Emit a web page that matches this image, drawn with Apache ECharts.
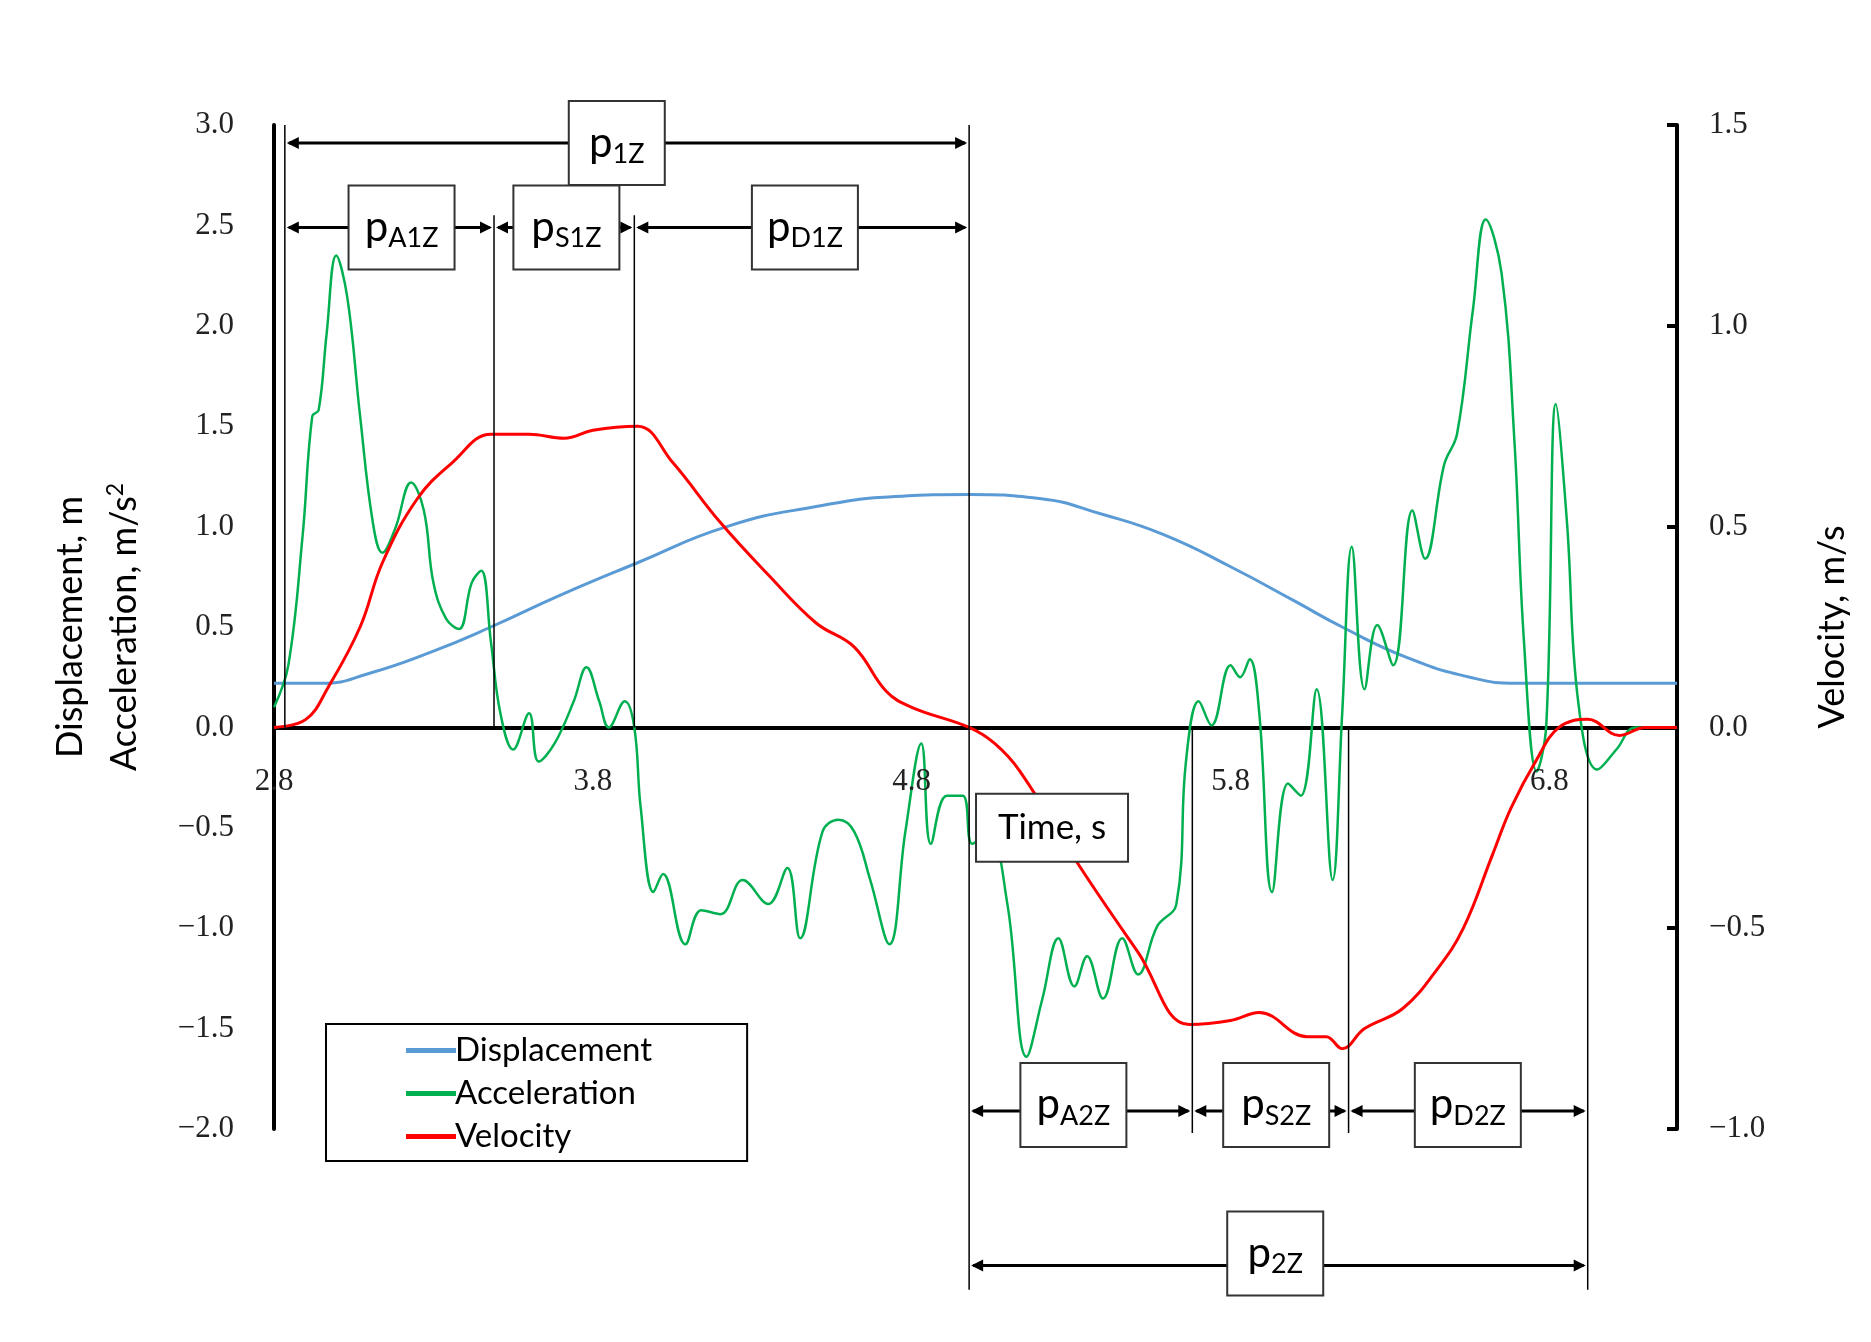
<!DOCTYPE html>
<html><head><meta charset="utf-8">
<script src="https://cdn.jsdelivr.net/npm/echarts@6/dist/echarts.min.js"></script>
<style>html,body{margin:0;background:#fff}#c{width:1871px;height:1342px}</style>
</head><body><div id="c"></div>
<script>
const xTicks=[2.8,3.8,4.8,5.8,6.8];
const displacement=[[2.8,0.22],[2.95,0.22],[3.1,0.27],[3.3,0.38],[3.48,0.5],[3.7,0.66],[3.94,0.82],[4.22,1.0],[4.5,1.1],[4.75,1.15],[4.98,1.16],[5.2,1.14],[5.4,1.06],[5.59,0.96],[5.8,0.8],[6.0,0.63],[6.15,0.5],[6.35,0.35],[6.55,0.25],[6.7,0.22],[7.2,0.22]];
const velocity=[[2.8,0],[2.9,0.02],[2.97,0.1],[3.07,0.25],[3.14,0.41],[3.25,0.57],[3.36,0.66],[3.48,0.73],[3.6,0.73],[3.71,0.72],[3.8,0.74],[3.94,0.75],[4.05,0.66],[4.2,0.51],[4.35,0.38],[4.5,0.26],[4.62,0.2],[4.72,0.09],[4.8,0.05],[4.98,0],[5.06,-0.04],[5.14,-0.11],[5.33,-0.35],[5.51,-0.56],[5.67,-0.74],[5.8,-0.73],[5.89,-0.71],[6.04,-0.77],[6.1,-0.77],[6.15,-0.8],[6.22,-0.75],[6.34,-0.7],[6.45,-0.6],[6.53,-0.5],[6.62,-0.32],[6.68,-0.2],[6.76,-0.08],[6.83,0],[6.92,0.02],[7.02,-0.02],[7.1,0],[7.2,0]];
const acceleration=[[2.8,0.1],[2.845,0.31],[2.89,0.96],[2.92,1.55],[2.94,1.58],[2.965,1.96],[2.995,2.35],[3.03,2.14],[3.07,1.55],[3.11,1.02],[3.14,0.87],[3.18,0.99],[3.23,1.22],[3.27,1.08],[3.3,0.72],[3.34,0.54],[3.38,0.49],[3.42,0.72],[3.45,0.78],[3.48,0.43],[3.51,0.07],[3.55,-0.11],[3.6,0.07],[3.63,-0.17],[3.68,-0.08],[3.74,0.13],[3.78,0.3],[3.82,0.13],[3.85,0],[3.9,0.13],[3.93,0],[3.95,-0.4],[3.99,-0.82],[4.02,-0.73],[4.09,-1.08],[4.14,-0.91],[4.2,-0.93],[4.27,-0.76],[4.35,-0.88],[4.41,-0.7],[4.45,-1.05],[4.52,-0.52],[4.57,-0.46],[4.62,-0.52],[4.67,-0.76],[4.73,-1.08],[4.78,-0.52],[4.83,-0.08],[4.86,-0.58],[4.91,-0.34],[4.96,-0.34],[4.99,-0.58],[5.04,-0.52],[5.1,-0.88],[5.16,-1.64],[5.21,-1.35],[5.26,-1.05],[5.31,-1.29],[5.35,-1.14],[5.4,-1.35],[5.46,-1.05],[5.51,-1.23],[5.57,-0.99],[5.63,-0.88],[5.66,-0.17],[5.7,0.13],[5.74,0.01],[5.8,0.31],[5.83,0.25],[5.86,0.34],[5.89,0.07],[5.93,-0.82],[5.98,-0.28],[6.02,-0.34],[6.07,0.19],[6.12,-0.76],[6.15,0.07],[6.18,0.9],[6.22,0.19],[6.26,0.51],[6.31,0.31],[6.37,1.08],[6.41,0.84],[6.47,1.31],[6.51,1.46],[6.56,2.08],[6.6,2.53],[6.65,2.26],[6.69,1.43],[6.72,0.43],[6.76,-0.22],[6.79,0.01],[6.82,1.61],[6.855,1.02],[6.89,0.13],[6.95,-0.21],[7.01,-0.11],[7.07,0],[7.2,0]];
const vLines=[[2.834,3.0,0],[3.49,2.55,0],[3.93,2.55,0],[4.98,3.0,-2.8],[5.68,0,-2.02],[6.17,0,-2.02],[6.92,0,-2.8]];
const spans=[[2.834,4.98,2.91],[2.834,3.49,2.49],[3.49,3.93,2.49],[3.93,4.98,2.49],[4.98,5.68,-1.91],[5.68,6.17,-1.91],[6.17,6.92,-1.91],[4.98,6.92,-2.68]];
const boxLabels=[[3.875,2.91,'p','1Z'],[3.2,2.49,'p','A1Z'],[3.717,2.49,'p','S1Z'],[4.465,2.49,'p','D1Z'],[5.307,-1.88,'p','A2Z'],[5.943,-1.88,'p','S2Z'],[6.544,-1.88,'p','D2Z'],[5.94,-2.62,'p','2Z']];
const timeLabel=[5.24,-0.5,'Time, s'];

const SANS='Lato, "Open Sans", sans-serif', SERIF='"Liberation Serif", "DejaVu Serif", serif';
const fmt=v=>(v<0?'\u2212':'')+Math.abs(v).toFixed(1);
const chart=echarts.init(document.getElementById('c'));
function arrowHead(x,y,dir){return {type:'polygon',shape:{points:[[x,y],[x-dir*12,y-6],[x-dir*12,y+6]]},style:{fill:'#000'}};}
chart.setOption({
  animation:false,
  grid:{left:274,right:194,top:125,bottom:213},
  legend:{orient:'vertical',left:326,top:1024,padding:[10,95,8,80],itemGap:10,
    borderColor:'#000',borderWidth:2,backgroundColor:'#fff',itemWidth:50,itemHeight:5,
    textStyle:{fontFamily:SANS,fontSize:33,color:'#000',padding:[0,0,0,-6]},
    data:[{name:'Displacement',icon:'rect'},{name:'Acceleration',icon:'rect'},{name:'Velocity',icon:'rect'}]},
  xAxis:{type:'value',min:2.8,max:7.2,splitLine:{show:false},
    axisLine:{onZero:true,lineStyle:{color:'#000',width:4}},axisTick:{show:false},axisLabel:{show:false}},
  yAxis:[{type:'value',min:-2,max:3,interval:0.5,splitLine:{show:false},
    axisLine:{show:true,lineStyle:{color:'#000',width:4}},axisTick:{show:false},
    axisLabel:{margin:40,fontFamily:SERIF,fontSize:31,color:'#222',formatter:fmt}},
   {type:'value',min:-1,max:1.5,interval:0.5,position:'right',splitLine:{show:false},
    axisLine:{show:true,lineStyle:{color:'#000',width:4}},axisTick:{show:true,inside:true,length:10,lineStyle:{width:4,color:'#000'}},
    axisLabel:{margin:32,fontFamily:SERIF,fontSize:31,color:'#222',formatter:fmt}}],
  series:[
    {name:'Displacement',type:'line',data:displacement,smooth:0.5,showSymbol:false,color:'#5B9BD5',lineStyle:{width:3},z:3},
    {name:'Acceleration',type:'line',data:acceleration,smooth:0.4,showSymbol:false,color:'#00B050',lineStyle:{width:2.5},z:4},
    {name:'Velocity',type:'line',yAxisIndex:1,data:velocity,smooth:0.4,showSymbol:false,color:'#FF0000',lineStyle:{width:3},z:5},
    {type:'custom',clip:false,z:7,data:xTicks.map(t=>[t,0]),renderItem:(p,api)=>{
      const c=api.coord([api.value(0),0]);
      return {type:'text',x:c[0],y:c[1]+54,style:{text:xTicks[p.dataIndex].toFixed(1),align:'center',verticalAlign:'middle',fontFamily:SERIF,fontSize:31,fill:'#222'}};}},
    {type:'custom',clip:false,z:6,data:vLines,renderItem:(p,api)=>{
      const a=api.coord([api.value(0),api.value(1)]),b=api.coord([api.value(0),api.value(2)]);
      return {type:'line',shape:{x1:a[0],y1:a[1],x2:b[0],y2:b[1]},style:{stroke:'#000',lineWidth:1.5}};}},
    {type:'custom',clip:false,z:6,data:spans,renderItem:(p,api)=>{
      const a=api.coord([api.value(0),api.value(2)]),b=api.coord([api.value(1),api.value(2)]);
      return {type:'group',children:[
        {type:'line',shape:{x1:a[0]+4,y1:a[1],x2:b[0]-4,y2:b[1]},style:{stroke:'#000',lineWidth:3}},
        arrowHead(a[0]+2,a[1],-1),arrowHead(b[0]-2,b[1],1)]};}},
    {type:'custom',clip:false,z:8,data:boxLabels.map(d=>[d[0],d[1]]),renderItem:(p,api)=>{
      const d=boxLabels[p.dataIndex];const c=api.coord([d[0],d[1]]);
      const w=d[3].length>2?106:96,h=84;
      return {type:'group',children:[
        {type:'rect',shape:{x:c[0]-w/2,y:c[1]-h/2,width:w,height:h},style:{fill:'#fff',stroke:'#333',lineWidth:2}},
        {type:'text',x:c[0],y:c[1],style:{text:'{a|'+d[2]+'}{b|'+d[3]+'}',align:'center',verticalAlign:'middle',
          rich:{a:{fontFamily:SANS,fontSize:42,color:'#000'},b:{fontFamily:SANS,fontSize:27,color:'#000',padding:[22,0,0,0]}}}}]};}},
    {type:'custom',clip:false,z:8,data:[[timeLabel[0],timeLabel[1]]],renderItem:(p,api)=>{
      const c=api.coord([timeLabel[0],timeLabel[1]]);
      return {type:'group',children:[
        {type:'rect',shape:{x:c[0]-76,y:c[1]-34,width:152,height:68},style:{fill:'#fff',stroke:'#333',lineWidth:2}},
        {type:'text',x:c[0],y:c[1],style:{text:timeLabel[2],align:'center',verticalAlign:'middle',fontFamily:SANS,fontSize:35,fill:'#000'}}]};}}
  ],
  graphic:[
    {type:'text',x:70,y:627,rotation:Math.PI/2,style:{text:'Displacement, m',align:'center',verticalAlign:'middle',fontFamily:SANS,fontSize:36,fill:'#000'}},
    {type:'text',x:124,y:627,rotation:Math.PI/2,style:{text:'{a|Acceleration, m/s}{b|2}',align:'center',verticalAlign:'middle',
      rich:{a:{fontFamily:SANS,fontSize:36,color:'#000'},b:{fontFamily:SANS,fontSize:23,color:'#000',padding:[0,0,16,0]}}}},
    {type:'text',x:1832,y:627,rotation:Math.PI/2,style:{text:'Velocity, m/s',align:'center',verticalAlign:'middle',fontFamily:SANS,fontSize:36,fill:'#000'}}
  ]
});
</script></body></html>
